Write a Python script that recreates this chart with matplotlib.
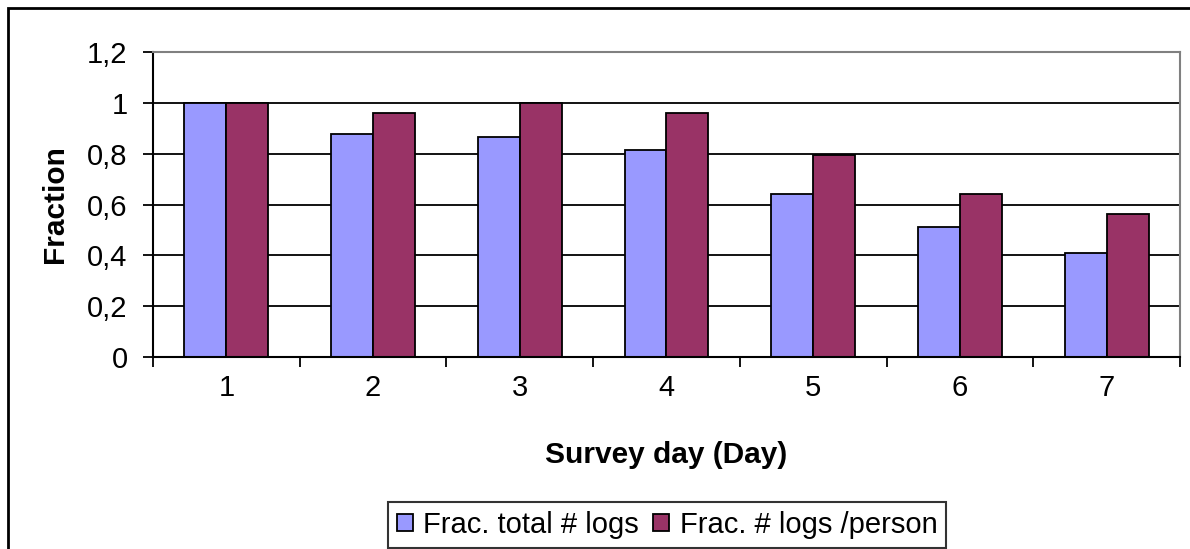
import matplotlib
matplotlib.use("Agg")
import matplotlib.pyplot as plt
from matplotlib.patches import Rectangle
import numpy as np

days = ["1", "2", "3", "4", "5", "6", "7"]
frac_total_logs = [1.0, 0.876, 0.867, 0.814, 0.641, 0.513, 0.409]
frac_logs_person = [1.0, 0.961, 1.0, 0.961, 0.795, 0.641, 0.563]
series_names = ["Frac. total # logs", "Frac. # logs /person"]
y_ticks = [0, 0.2, 0.4, 0.6, 0.8, 1.0, 1.2]
y_tick_labels = ["0", "0,2", "0,4", "0,6", "0,8", "1", "1,2"]

plt.rcParams["font.family"] = ["Liberation Sans", "DejaVu Sans"]
FS = 21

W, H = 1190, 549
fig = plt.figure(figsize=(W / 100, H / 100), dpi=100)
fig.patch.set_facecolor("white")

# outer chart frame
fig.add_artist(Rectangle((8 / W, -0.1), 1.2, (H - 8) / H + 0.1,
                         transform=fig.transFigure, fill=False,
                         edgecolor="black", lw=2, clip_on=False))

left, right, top, bottom = 153, 1180, 52, 357
ax = fig.add_axes([left / W, 1 - bottom / H, (right - left) / W, (bottom - top) / H])

x = np.arange(1, len(days) + 1)
bw = 1 / 3.5
ax.bar(x - bw / 2, frac_total_logs, width=bw, color="#9999FF",
       edgecolor="black", linewidth=1.3, label=series_names[0], zorder=3)
ax.bar(x + bw / 2, frac_logs_person, width=bw, color="#993366",
       edgecolor="black", linewidth=1.3, label=series_names[1], zorder=3)

ax.set_xlim(0.5, len(days) + 0.5)
ax.set_ylim(0, 1.2)
ax.set_yticks(y_ticks)
ax.set_yticklabels(y_tick_labels, fontsize=FS)
ax.set_xticks(x)
ax.set_xticklabels(days, fontsize=FS)
ax.set_xticks(np.arange(0.5, len(days) + 1, 1), minor=True)
ax.tick_params(axis="x", which="major", length=0, pad=12)
ax.tick_params(axis="x", which="minor", length=7.2, width=1.3, direction="out")
ax.tick_params(axis="y", length=7.2, width=1.3, pad=11, direction="out")

ax.yaxis.grid(True, color="black", lw=1.3)
ax.set_axisbelow(True)
for s in ["top", "right"]:
    ax.spines[s].set_color("#808080")
    ax.spines[s].set_linewidth(1.5)
    ax.spines[s].set_zorder(4)
for s in ["left", "bottom"]:
    ax.spines[s].set_color("black")
    ax.spines[s].set_linewidth(1.5)
    ax.spines[s].set_zorder(4)

ax.set_xlabel("Survey day (Day)", fontsize=FS + 0.5, fontweight="bold")
ax.xaxis.set_label_coords(0.5, (bottom - 455) / (bottom - top))
ax.xaxis.label.set_va("center")
ax.set_ylabel("Fraction", fontsize=FS + 0.5, fontweight="bold")
ax.yaxis.set_label_coords((55 - left) / (right - left), 0.5)
ax.yaxis.label.set_va("center")

leg = fig.legend(loc="center", bbox_to_anchor=(667 / W, 1 - 525 / H),
                 ncol=2, fontsize=FS, frameon=True, fancybox=False,
                 handlelength=0.55, handleheight=0.55, handletextpad=0.35,
                 columnspacing=0.5, borderpad=0.3, borderaxespad=0)
leg.get_frame().set_edgecolor("black")
leg.get_frame().set_linewidth(1.5)

fig.savefig("out.png", dpi=100, facecolor="white")
